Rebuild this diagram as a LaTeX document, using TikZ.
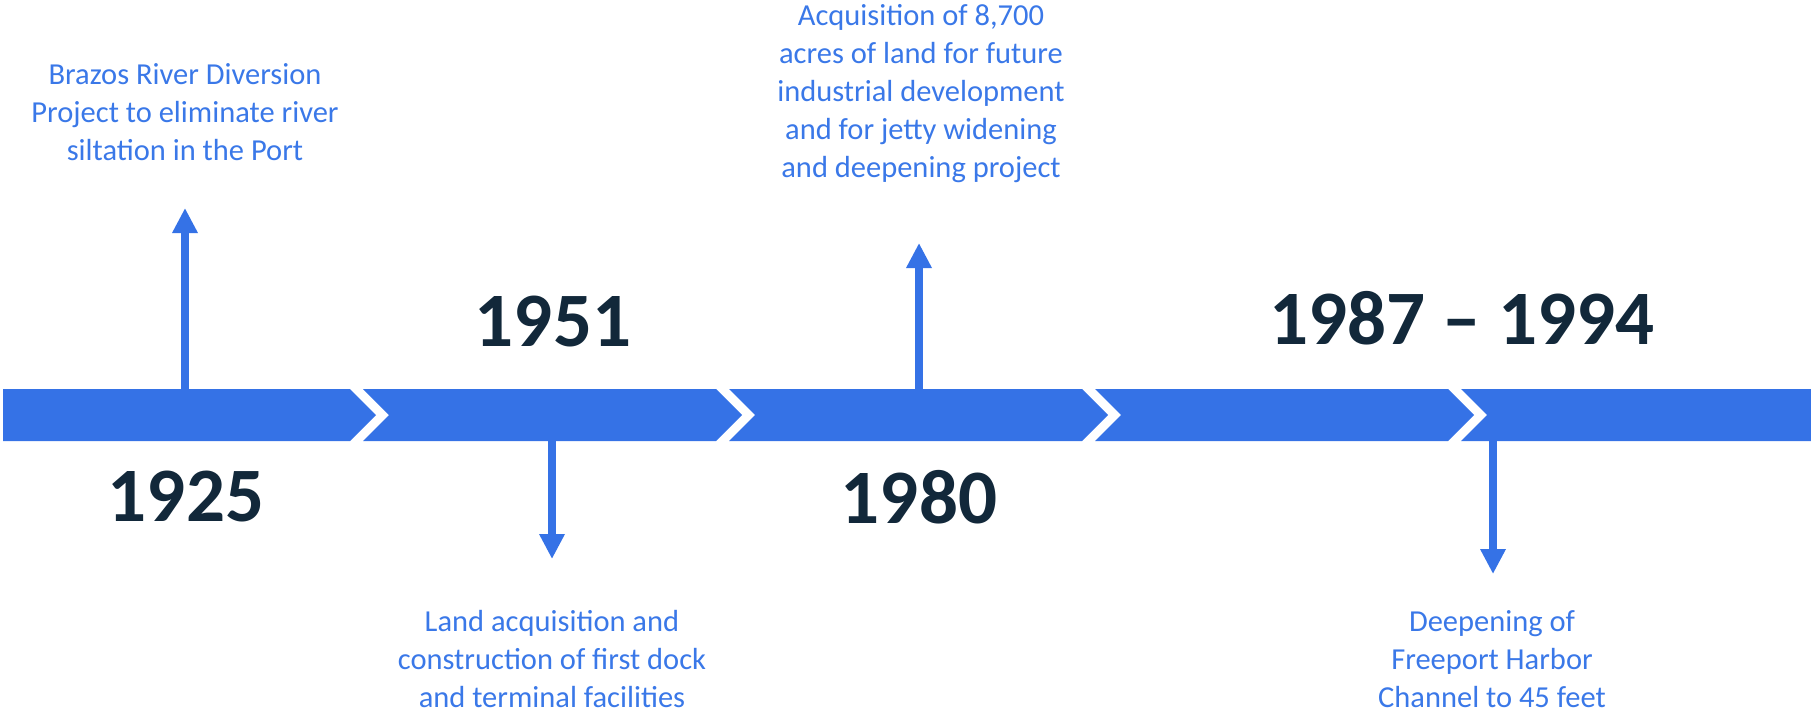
\documentclass[tikz,border=0pt]{standalone}
\usepackage{fontspec}
\setmainfont{Carlito}
\usepackage{tikz}
\usetikzlibrary{arrows.meta}
\definecolor{barblue}{RGB}{53,114,230}
\definecolor{textblue}{RGB}{58,120,232}
\definecolor{yearnavy}{RGB}{18,40,58}
\tikzset{segment/.style={fill = barblue, draw = none}}
\tikzset{evarrow/.style={draw = barblue, line width = 8pt, -{Triangle[width=24pt, length=25pt]}}}
\tikzset{year/.style={text = yearnavy, font = \fontsize{77}{90}\selectfont\bfseries, inner sep = 0}}
\tikzset{event/.style={text = textblue, font = \fontsize{30.5}{38}\selectfont, align = center, inner sep = 0, anchor = base}}

\begin{document}
\begin{tikzpicture}[x = 1pt, y = -1pt]
	\useasboundingbox (0,0) rectangle (1811,713);
	% the bar
	\path[segment] (3,389) -- (350,389) -- (376,415) -- (350,441) -- (3,441) -- cycle;
	\path[segment] (363,389) -- (716,389) -- (742,415) -- (716,441) -- (363,441) -- (389,415) -- cycle;
	\path[segment] (729,389) -- (1082,389) -- (1108,415) -- (1082,441) -- (729,441) -- (755,415) -- cycle;
	\path[segment] (1095,389) -- (1448,389) -- (1474,415) -- (1448,441) -- (1095,441) -- (1121,415) -- cycle;
	\path[segment] (1461,389) -- (1811,389) -- (1811,441) -- (1461,441) -- (1487,415) -- cycle;

	\coordinate (b1925) at (185,389);
	\coordinate (t1925) at (185,208);
	\coordinate (b1951) at (552,441);
	\coordinate (t1951) at (552,559);
	\coordinate (b1980) at (919,389);
	\coordinate (t1980) at (919,243);
	\coordinate (b1987) at (1493,441);
	\coordinate (t1987) at (1493,574);
	\draw[evarrow] (b1925) -- (t1925);
	\draw[evarrow] (b1951) -- (t1951);
	\draw[evarrow] (b1980) -- (t1980);
	\draw[evarrow] (b1987) -- (t1987);

	\node[year] (y1925) at (186,497) {1925};
	\node[year] (y1951) at (553,322) {1951};
	\node[year] (y1980) at (919,497) {1980};
	\node[year] (y1987) at (1462,318) {1987 – 1994};

	% anchor = base sits on the last line
	\node[event] (e1925) at (185,160) {Brazos River Diversion\\Project to eliminate river\\siltation in the Port};
	\node[event] (e1951) at (552,707) {Land acquisition and\\construction of first dock\\and terminal facilities};
	\node[event] (e1980) at (921,177) {Acquisition of 8,700\\acres of land for future\\industrial development\\and for jetty widening\\and deepening project};
	\node[event] (e1987) at (1492,707) {Deepening of\\Freeport Harbor\\Channel to 45 feet};
\end{tikzpicture}
\end{document}
